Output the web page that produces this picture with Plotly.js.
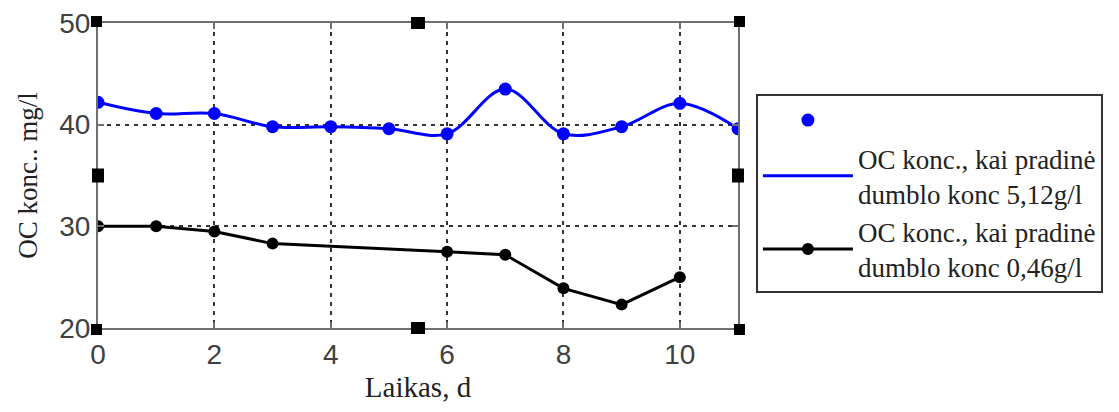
<!DOCTYPE html>
<html>
<head>
<meta charset="utf-8">
<script src="https://cdn.plot.ly/plotly-3.0.1.min.js"></script>
<style>html,body{margin:0;padding:0;background:#fff;}#chart{width:1119px;height:412px;}</style>
</head>
<body>
<div id="chart"></div>
<script>
// Data
const daysHigh = [0, 1, 2, 3, 4, 5, 6, 7, 8, 9, 10, 11];
const ocHigh   = [42.2, 41.1, 41.1, 39.8, 39.8, 39.6, 39.1, 43.5, 39.1, 39.8, 42.1, 39.6];
const daysLow  = [0, 1, 2, 3, 6, 7, 8, 9, 10];
const ocLow    = [30.0, 30.0, 29.5, 28.3, 27.5, 27.2, 23.9, 22.3, 25.0];
const nameHigh = "OC konc., kai pradinė<br>dumblo konc 5,12g/l";
const nameLow  = "OC konc., kai pradinė<br>dumblo konc 0,46g/l";
const xTitle = "Laikas, d";
const yTitle = "OC konc.. mg/l";
const xTicks = [0, 2, 4, 6, 8, 10];
const yTicks = [20, 30, 40, 50];

const serif = "Liberation Serif, Times New Roman, serif";
const sans = "Liberation Sans, Arial, sans-serif";

const traces = [
  {x: daysHigh, y: ocHigh, mode: "markers", name: " ", type: "scatter",
   marker: {color: "#0000ff", size: 13}},
  {x: daysHigh, y: ocHigh, mode: "lines", name: nameHigh, type: "scatter",
   line: {color: "#0000ff", width: 3, shape: "spline", smoothing: 1}},
  {x: daysLow, y: ocLow, mode: "lines+markers", name: nameLow, type: "scatter",
   line: {color: "#000000", width: 3},
   marker: {color: "#000000", size: 12}}
];

function handle(xa, ya, x0, x1, y0, y1) {
  return {type: "rect", xref: "paper", yref: "paper", xsizemode: "pixel", ysizemode: "pixel",
          xanchor: xa, yanchor: ya, x0: x0, x1: x1, y0: y0, y1: y1,
          fillcolor: "#000", line: {width: 0}, layer: "above"};
}
const shapes = [
  handle(0, 1, -7, 4, -4, 7), handle(0.5, 1, -7, 7, -6, 6), handle(1, 1, -4, 7, -4, 7),
  handle(0, 0.5, -6, 6, -7, 7), handle(1, 0.5, -6, 6, -7, 7),
  handle(0, 0, -7, 4, -7, 4), handle(0.5, 0, -7, 7, -6, 6), handle(1, 0, -4, 7, -7, 4)
];

const axisCommon = {
  showline: true, linecolor: "#707070", linewidth: 2, mirror: "ticks",
  ticks: "inside", ticklen: 6, tickcolor: "#707070", tickwidth: 2,
  showgrid: true, gridcolor: "#333333", gridwidth: 2, griddash: "4px,5px",
  zeroline: false, tickfont: {family: sans, size: 28, color: "#404040"}
};

const layout = {
  width: 1119, height: 412,
  margin: {l: 98, r: 381, t: 23, b: 84},
  paper_bgcolor: "#fff", plot_bgcolor: "#fff",
  showlegend: true,
  xaxis: Object.assign({}, axisCommon, {
    range: [0, 11], tickvals: xTicks, ticktext: xTicks.map(String), ticklabelstandoff: 0,
    title: {text: xTitle, font: {family: serif, size: 29, color: "#222"}, standoff: 8}
  }),
  yaxis: Object.assign({}, axisCommon, {
    range: [20, 50], tickvals: yTicks, ticktext: yTicks.map(String), ticklabelstandoff: 0,
    title: {text: yTitle, font: {family: serif, size: 27, color: "#222"}, standoff: 14}
  }),
  legend: {
    x: 1.028, xanchor: "left", y: 0.767, yanchor: "top",
    bordercolor: "#333", borderwidth: 2, bgcolor: "#fff",
    font: {family: serif, size: 27, color: "#222"},
    itemwidth: 90, tracegroupgap: 0
  },
  shapes: shapes
};

Plotly.newPlot("chart", traces, layout, {displayModeBar: false, staticPlot: true});
</script>
</body>
</html>
